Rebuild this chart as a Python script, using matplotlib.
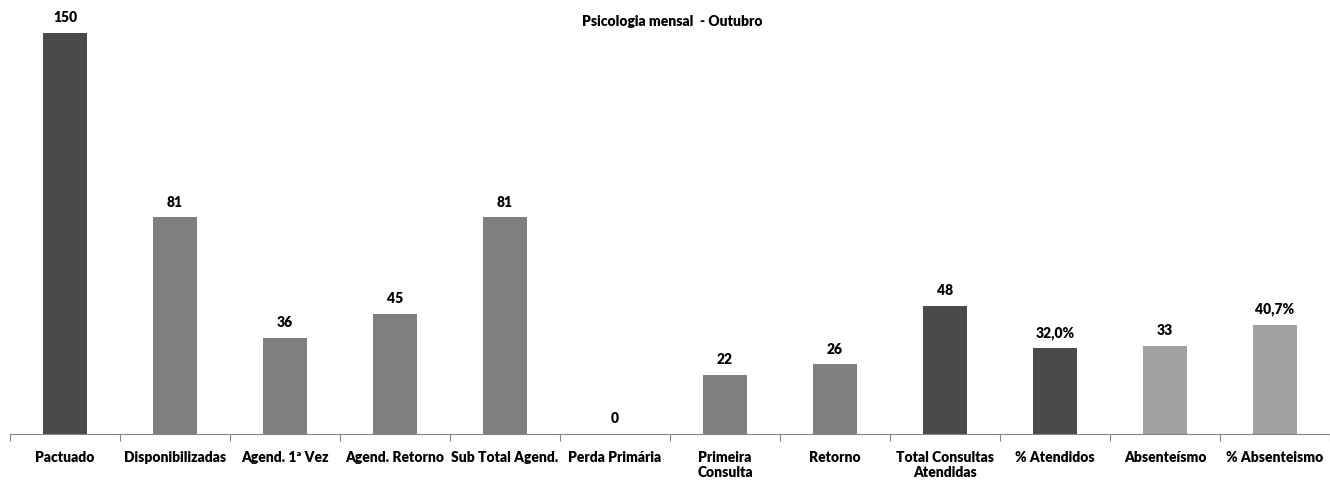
import matplotlib
matplotlib.use("Agg")
import matplotlib.pyplot as plt
import numpy as np

categories = ["Pactuado", "Disponibilizadas", "Agend. 1ª Vez", "Agend. Retorno",
              "Sub Total Agend.", "Perda Primária", "Primeira\nConsulta", "Retorno",
              "Total Consultas\nAtendidas", "% Atendidos", "Absenteísmo", "% Absenteismo"]
values = [150, 81, 36, 45, 81, 0, 22, 26, 48, 32.0, 33, 40.7]
value_labels = ["150", "81", "36", "45", "81", "0", "22", "26", "48", "32,0%", "33", "40,7%"]
dark, mid, light = "#4a4a4a", "#7f7f7f", "#a0a0a0"
colors = [dark, mid, mid, mid, mid, mid, mid, mid, dark, dark, light, light]

plt.rcParams['font.family'] = ['Lato', 'DejaVu Sans']

fig = plt.figure(figsize=(13.3, 4.81), dpi=100)
ax = fig.add_axes([10/1330, 1 - 435/481, 1320/1330, (435 - 7.3)/481])

x = np.arange(len(categories))
ax.bar(x, values, width=0.4, color=colors)
ax.set_xlim(-0.5, len(categories) - 0.5)
ax.set_ylim(0, 160)

for xi, v, lab in zip(x, values, value_labels):
    ax.annotate(lab, (xi, v), xytext=(0, 7), textcoords="offset points",
                ha="center", va="bottom", fontsize=10, fontweight="heavy", color="black")

ax.set_yticks([])
for s in ["left", "right", "top"]:
    ax.spines[s].set_visible(False)
ax.spines["bottom"].set_color("#868686")
ax.set_xticks(np.arange(-0.5, len(categories) - 0.4, 1))
ax.set_xticklabels([])
ax.tick_params(axis="x", length=5, color="#868686", direction="out")
for xi, c in zip(x, categories):
    ax.text(xi, -0.037, c, transform=ax.get_xaxis_transform(), ha="center", va="top",
            fontsize=10, fontweight="heavy", linespacing=1.2)

fig.text(672/1330, 1 - 21/481, "Psicologia mensal  - Outubro", ha="center", va="center",
         fontsize=10, fontweight="heavy")

fig.savefig("out.png", dpi=100)
